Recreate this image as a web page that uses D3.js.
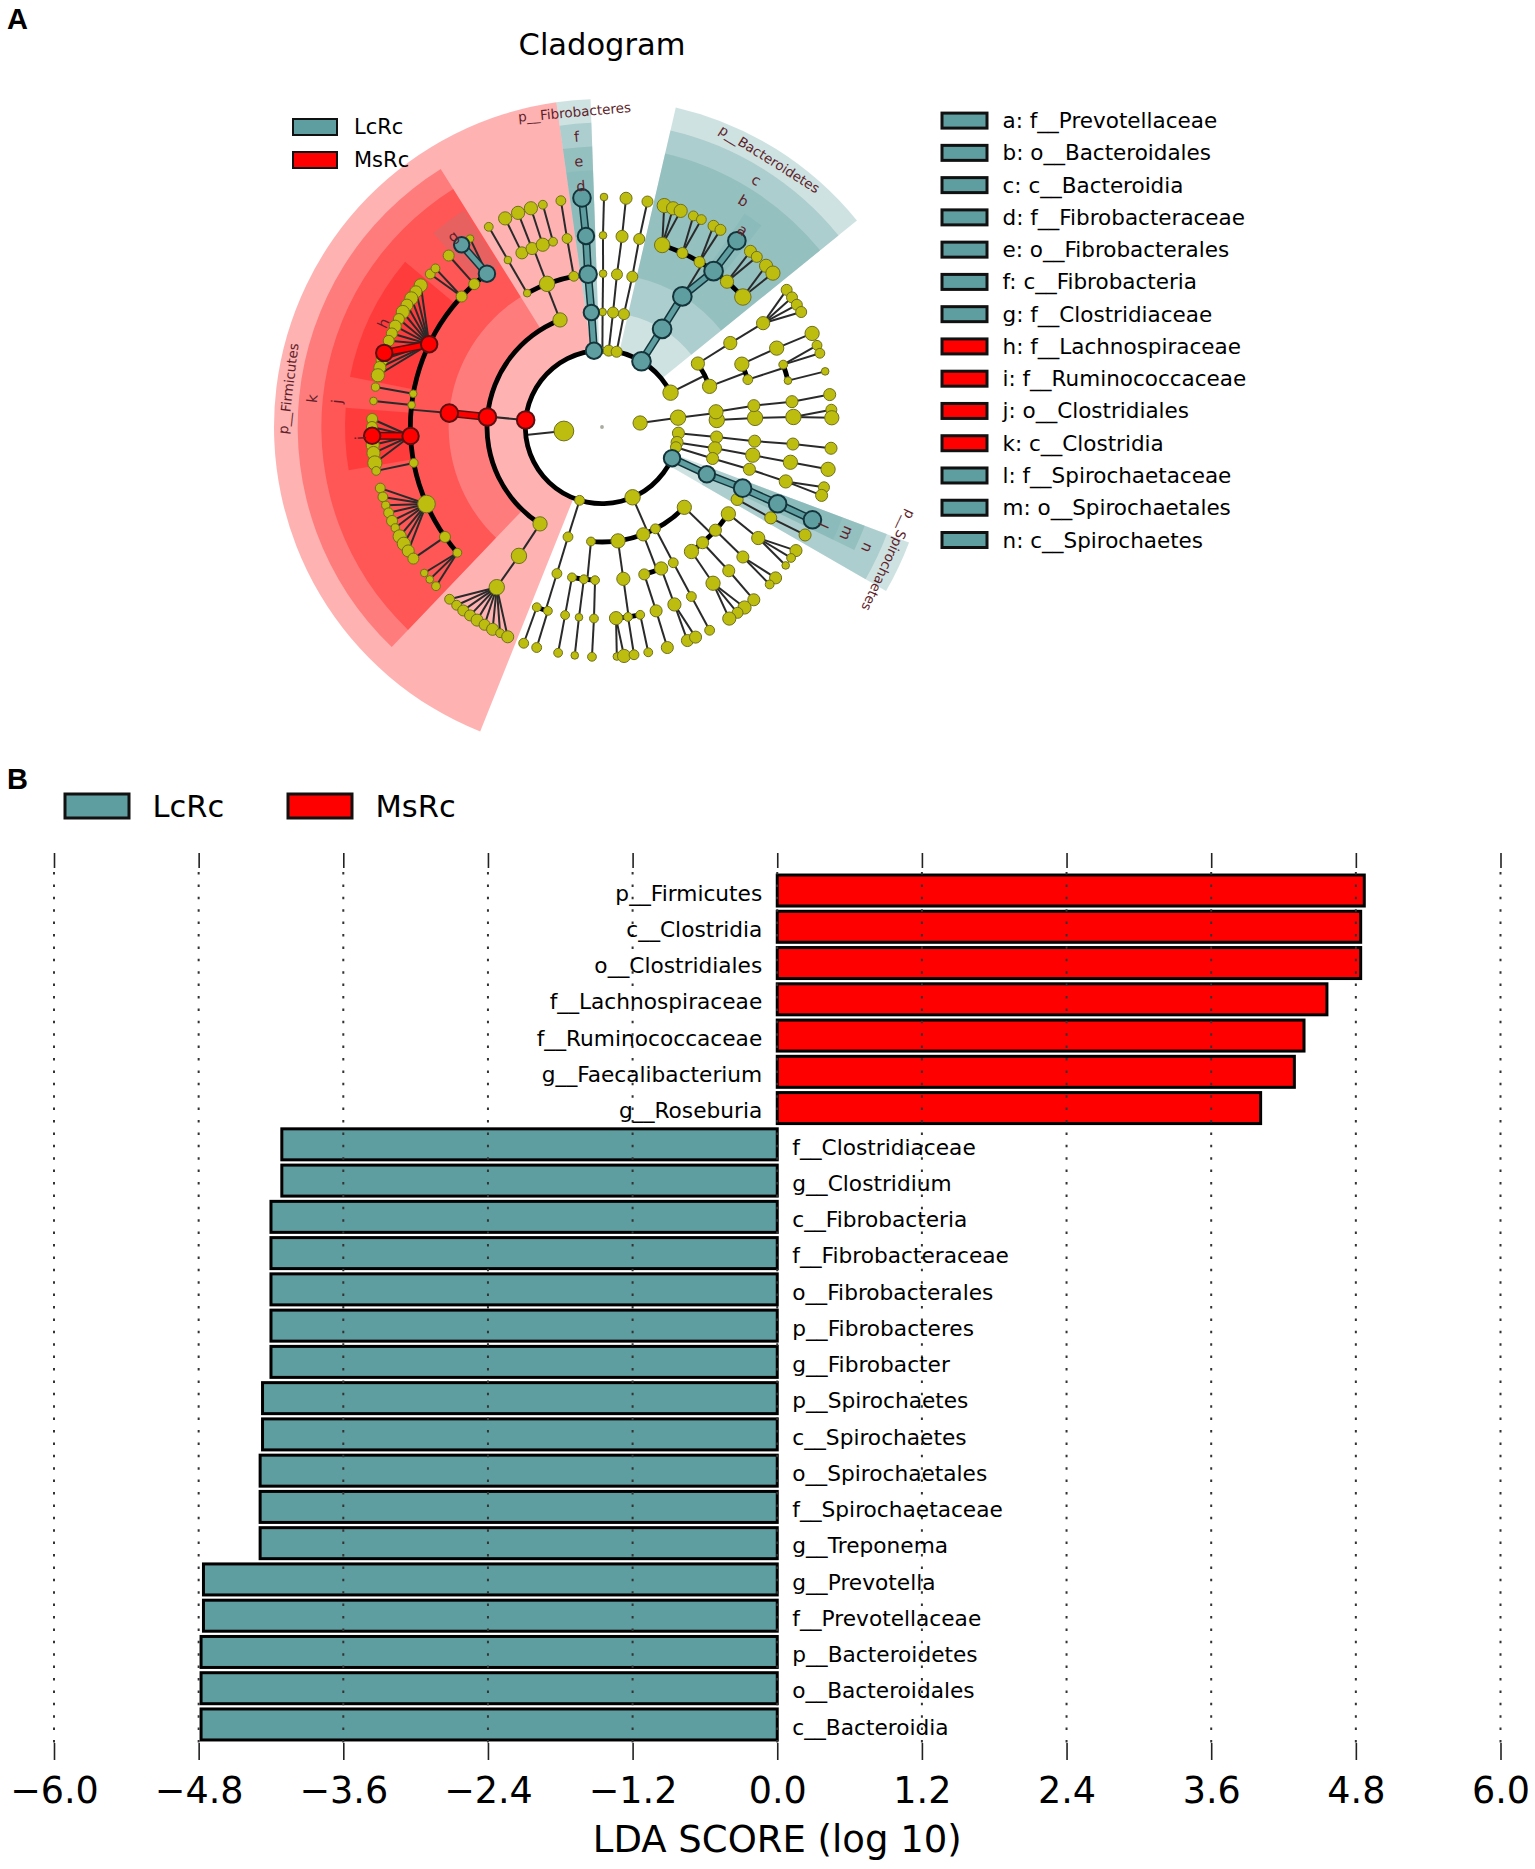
<!DOCTYPE html>
<html>
<head>
<meta charset="utf-8">
<script src="https://cdn.jsdelivr.net/npm/d3@7"></script>
<style>
    html, body { margin: 0; background: #fff; }
    svg { display: block; font-family: "DejaVu Sans", sans-serif; }
</style>
</head>
<body>
<div id="chart"></div>
<script>
// ---- LDA bars (panel B) ----
const taxa = ['p__Firmicutes', 'c__Clostridia', 'o__Clostridiales', 'f__Lachnospiraceae', 'f__Ruminococcaceae',
    'g__Faecalibacterium', 'g__Roseburia', 'f__Clostridiaceae', 'g__Clostridium', 'c__Fibrobacteria',
    'f__Fibrobacteraceae', 'o__Fibrobacterales', 'p__Fibrobacteres', 'g__Fibrobacter', 'p__Spirochaetes',
    'c__Spirochaetes', 'o__Spirochaetales', 'f__Spirochaetaceae', 'g__Treponema', 'g__Prevotella',
    'f__Prevotellaceae', 'p__Bacteroidetes', 'o__Bacteroidales', 'c__Bacteroidia'];
const ldaScores = [4.87, 4.84, 4.84, 4.56, 4.37, 4.29, 4.01, -4.11, -4.11, -4.2, -4.2, -4.2, -4.2, -4.2,
    -4.27, -4.27, -4.29, -4.29, -4.29, -4.76, -4.76, -4.78, -4.78, -4.78];
const ldaTicks = [-6, -4.8, -3.6, -2.4, -1.2, 0, 1.2, 2.4, 3.6, 4.8, 6];
const groups = ['LcRc', 'MsRc'];
const groupColor = { LcRc: '#5f9ea0', MsRc: '#ff0000' };

// ---- cladogram key (panel A) ----
const cladeKeys = ['a: f__Prevotellaceae', 'b: o__Bacteroidales', 'c: c__Bacteroidia', 'd: f__Fibrobacteraceae',
    'e: o__Fibrobacterales', 'f: c__Fibrobacteria', 'g: f__Clostridiaceae', 'h: f__Lachnospiraceae',
    'i: f__Ruminococcaceae', 'j: o__Clostridiales', 'k: c__Clostridia', 'l: f__Spirochaetaceae',
    'm: o__Spirochaetales', 'n: c__Spirochaetes'];
const cladeKeyGroups = ['LcRc', 'LcRc', 'LcRc', 'LcRc', 'LcRc', 'LcRc', 'LcRc', 'MsRc', 'MsRc', 'MsRc', 'MsRc', 'LcRc', 'LcRc', 'LcRc'];

// shaded clades: [group, depth, from deg, to deg]
const cladeShades = [
    ['MsRc', 2, -158.2, -8], ['MsRc', 3, -136.3, -32], ['MsRc', 4, -136.3, -32], ['MsRc', 5, -78.7, -50], ['MsRc', 5, -99.7, -85.7],
    ['LcRc', 5, -41, -32.5],
    ['LcRc', 2, -8, -2], ['LcRc', 3, -8, -2], ['LcRc', 4, -8, -2], ['LcRc', 5, -8, -2],
    ['LcRc', 2, 13, 51], ['LcRc', 3, 13, 51], ['LcRc', 4, 13, 51], ['LcRc', 5, 33.7, 38.4],
    ['LcRc', 2, 110.6, 120], ['LcRc', 3, 110.6, 120], ['LcRc', 4, 110.6, 116], ['LcRc', 5, 110.6, 116]
];
// clade labels: [text, depth, angle deg]
const cladeLabels = [
    ['p__Firmicutes', 2, -83], ['p__Fibrobacteres', 2, -5], ['p__Bacteroidetes', 2, 32], ['p__Spirochaetes', 2, 115],
    ['k', 3, -84.4], ['j', 4, -84.5], ['h', 5, -64.6], ['i', 5, -92.6], ['g', 5, -38],
    ['f', 3, -5], ['e', 4, -5], ['d', 5, -5], ['c', 3, 32], ['b', 4, 32], ['a', 5, 35.5],
    ['n', 3, 114.5], ['m', 4, 113.5], ['l', 5, 114]
];

// clade tree, one node is [angle deg, abundance, children, group]
// group: L / M coloured with a thick link from its parent, l / m coloured only
const firmicutes = [-84.8, 64, [
    [-21.4, 42, [
        [-29.2, 12, [[-29.4, 12, [[-29.5, 16]]]]],
        [-21, 49, [
            [-24.7, 30, [[-24.9, 36]]],
            [-21.4, 30, [[-21.4, 36]]],
            [-18, 36, [[-18, 36]]],
            [-14.8, 16, [[-14.9, 16]]]]],
        [-10.6, 20, [[-10.5, 20, [[-10.3, 20]]]]]]],
    [-85, 64, [
        [-84.8, 64, [
            [-36.9, 56, [[-37.6, 49, null, 'L'], [-35, 12]], 'l'],
            [-41.8, 25, [[-41.8, 25]]],
            [-47.1, 25, [[-48.3, 20], [-46.4, 16]]],
            [-64.4, 56, [[-52, 36], [-54, 30], [-56, 36], [-58, 30], [-60, 36], [-62, 25], [-64, 30], [-66, 25], [-68, 25],
                [-71.2, 56, null, 'M'], [-73, 30], [-75, 30], [-77, 36]], 'm'],
            [-80, 12, [[-80, 14]]],
            [-83.4, 12, [[-83.5, 12]]],
            [-92.7, 56, [[-88, 25], [-90, 25], [-92.2, 56, null, 'M'], [-94.5, 36], [-96.5, 36], [-99, 42]], 'm'],
            [-100.8, 16, [[-101, 16]]],
            [-113.7, 64, [[-105.4, 20], [-107.7, 20], [-109.9, 14], [-111.9, 20], [-114.1, 25], [-116, 14], [-118.4, 36], [-120.5, 36], [-122.6, 30]]],
            [-125, 25, [[-124.9, 25]]],
            [-131, 16, [[-129.4, 12], [-131.5, 12], [-133.8, 16]]]], 'M']], 'm'],
    [-147.4, 42, [[-147.2, 49, [[-146.7, 49, [[-138.5, 20], [-140.8, 20], [-142.9, 25], [-145, 25], [-147.1, 30], [-149.3, 25], [-151.6, 30], [-153.7, 16], [-155.8, 30]]]]]]]
], 'm'];

const fibrobacteres = [-6, 56, [[-5.3, 49, [[-5.2, 64, [[-4.8, 56, [[-5, 64, null, 'L']], 'L']], 'L']], 'L']], 'l'];
const smallPhylaA = [0.3, 9, [[0.3, 12, [[0.4, 12, [[0.3, 12, [[0.5, 12]]]]]]]]];
const smallPhylaB = [5, 25, [[5.5, 25, [[5.6, 25, [[6, 30, [[6, 30]]]]]]]]];
const smallPhylaC = [11, 25, [[11, 25, [[11.4, 25, [[11.2, 25, [[11.4, 25]]]]]]]]];

const bacteroidetes = [31, 72, [[31.5, 72, [[31.6, 72, [
    [18.3, 49, [[15.7, 42], [18, 36], [20, 36]]],
    [24.8, 25, [[23.4, 20], [25.6, 20]]],
    [30.6, 25, [[29, 25], [31, 25]]],
    [35.6, 72, [[35.9, 64, null, 'L']], 'L'],
    [40.7, 36, [[40.2, 30], [42.3, 25]]],
    [47.3, 56, [[45.5, 36], [48, 42]]]
], 'L']], 'L']], 'l'];

const upperRightPhylum = [63.4, 49, [
    [56.5, 36, [[56.8, 36, [[57.2, 36, [[53.4, 25], [55.7, 25], [57.9, 25], [60, 25]]]]]]],
    [69.3, 42, [
        [65.8, 42, [[65.7, 42, [[66, 42]]]]],
        [72, 20, [[71, 16, [[69.2, 20], [71.3, 20]]], [76, 12, [[76, 12]]]]]]]
]];

const spirochaetes = [-246, 56, [[114.3, 56, [
    [113.5, 64, [[113.6, 64, [[113.8, 64, null, 'L']], 'L']], 'L'],
    [118.2, 30, [[118.3, 30, [[118, 30]]]]]
], 'L']], 'l'];

const lowerPhylum = [-203.5, 49, [
    [134.3, 42, [
        [124.5, 42, [[125.4, 36, [[122.5, 30], [124.7, 16], [127, 12]]]]],
        [132.3, 30, [[132.7, 30, [[131, 30], [133.2, 16]]]]],
        [139, 30, [[138.6, 30, [[138.7, 30]]]]],
        [144.3, 42, [[144.6, 42, [[141.7, 36], [143.9, 25], [146.4, 36]]]]]]],
    [152.3, 20, [[152.3, 20, [[152.2, 20, [[152.1, 20]]]]]]],
    [159, 36, [
        [164, 25, [[163.6, 30, [[163.5, 30]]]]],
        [157.3, 36, [[157.8, 36, [[158.2, 30], [156, 30]]]]]]],
    [172, 42, [[172, 36, [
        [175.8, 36, [[176.3, 12], [174.5, 36]]],
        [172.2, 16, [[172, 20]]],
        [168.5, 16, [[168.4, 16]]]]]]],
    [185.5, 16, [
        [191.3, 16, [[191.1, 16, [[191, 16]]]]],
        [186.8, 16, [[186.9, 12, [[186.8, 12]]]]],
        [182.6, 16, [[182.4, 16, [[182.5, 16]]]]]]]
]];

const smallestPhylum = [-163, 20, [[197.2, 20, [[197.1, 20, [
    [199.9, 16, [[199.9, 20]]],
    [196.4, 16, [[196.5, 20]]]]]]]]];

const mainKingdom = [-96, 81, [spirochaetes, lowerPhylum, smallestPhylum, firmicutes, fibrobacteres,
    smallPhylaA, smallPhylaB, smallPhylaC, bacteroidetes, upperRightPhylum]];

const sideKingdom = [84, 42, [[83, 49, [
    [86.5, 49, [[86.6, 49, [[87, 49, [[85.7, 25], [87.7, 42]]]]]]],
    [82.4, 42, [[82, 30, [[82.4, 30, [[81.9, 30]]]]]]]]]]];

// phyla in the gap of the ring, no link towards the centre in the picture
const loosePhylumA = [94.6, 0, [[94.6, 30, [[95, 30, [[95.3, 30, [[95.1, 30, [[95.3, 30]]]]]]]]]]];
const loosePhylumB = [101.6, 0, [[101.6, 30, [[100.7, 36, [[100.6, 42, [[100.6, 42, [[100.6, 42]]]]]]]]]]];
const loosePhylumC = [105.3, 0, [[105.3, 25, [[105.9, 30, [[106, 30, [[106.5, 36, [[105.2, 25], [107.3, 30]]]]]]]]]]];

const cladeRoot = [0, 3, [mainKingdom, sideKingdom, loosePhylumA, loosePhylumB, loosePhylumC]];

const width = 1535, height = 1869;
const svg = d3.select('#chart').append('svg')
    .attr('width', width)
    .attr('height', height);

drawCladogram();
drawLdaBars();

// panel letters
svg.selectAll('text.panel')
    .data([['A', 29], ['B', 789]])
    .enter().append('text')
    .attr('class', 'panel')
    .attr('x', 7)
    .attr('y', d => d[1])
    .style('font-family', '"Liberation Sans", Arial, sans-serif')
    .style('font-weight', 'bold')
    .style('font-size', '29px')
    .text(d => d[0]);

function drawCladogram() {
    const center = [602, 427];
    const g = svg.append('g').attr('transform', `translate(${center})`);

    const angle = d3.scaleLinear().domain([-360, 360]).range([-2 * Math.PI, 2 * Math.PI]);
    const radius = d3.scaleLinear().domain([0, 6]).range([0, 230]);
    const shadeOuter = d3.scaleLinear().domain([2, 5]).range([328, 257]);
    const labelRadius = d3.scaleLinear().domain([2, 5]).range([316, 242]);
    const nodeSize = d3.scaleSqrt().domain([0, 100]).range([0, 11]);

    const arc = d3.arc();
    const root = d3.hierarchy(cladeRoot, d => d[2]);
    const nodes = root.descendants();
    const at = (deg, depth) => d3.pointRadial(angle(deg), radius(depth));
    const isLinked = n => n.depth > 1 && n.parent.data[1] > 0;

    // clade shading
    g.selectAll('path.shade')
        .data(cladeShades)
        .enter().append('path')
        .attr('class', 'shade')
        .attr('d', d => arc({
            innerRadius: radius(d[1]),
            outerRadius: shadeOuter(d[1]),
            startAngle: angle(d[2]),
            endAngle: angle(d[3])
        }))
        .style('fill', d => groupColor[d[0]])
        .style('opacity', d => d[0] === 'LcRc' && d[1] === 5 ? 0.15 : 0.3);

    // thin links: straight for fans and single children, stem down to the sibling arc otherwise
    const thin = [];
    nodes.filter(n => n.children && n.depth > 0 && n.data[1] > 0).forEach(n => {
        const kids = n.children;
        if (kids.length > 1 && kids[0].depth < 6) {
            thin.push([at(n.data[0], n.depth), at(n.data[0], n.depth + 1)]);
        } else {
            kids.forEach(c => thin.push([at(n.data[0], n.depth), at(c.data[0], c.depth)]));
        }
    });
    g.selectAll('line.thin')
        .data(thin)
        .enter().append('line')
        .attr('class', 'thin')
        .attr('x1', d => d[0][0]).attr('y1', d => d[0][1])
        .attr('x2', d => d[1][0]).attr('y2', d => d[1][1])
        .style('stroke', '#2a2a2a')
        .style('stroke-width', 2);

    // thick arcs between siblings
    const siblings = nodes.filter(n => n.children && n.children.length > 1 && n.depth > 0 && n.children[0].depth < 6);
    g.selectAll('path.sib')
        .data(siblings)
        .enter().append('path')
        .attr('class', 'sib')
        .attr('d', n => arc({
            innerRadius: radius(n.depth + 1) - 2.4,
            outerRadius: radius(n.depth + 1) + 2.4,
            startAngle: angle(d3.min(n.children, c => c.data[0])),
            endAngle: angle(d3.max(n.children, c => c.data[0]))
        }))
        .style('fill', '#000');

    // highlighted links
    const bold = nodes.filter(n => (n.data[3] === 'L' || n.data[3] === 'M') && isLinked(n));
    const boldColor = n => n.data[3] === 'L' ? groupColor.LcRc : groupColor.MsRc;
    [[8, n => n.data[3] === 'L' ? '#12343a' : '#5a1010'], [5, boldColor]].forEach(([w, col]) => {
        g.append('g').selectAll('line')
            .data(bold)
            .enter().append('line')
            .attr('x1', n => at(n.parent.data[0], n.parent.depth)[0])
            .attr('y1', n => at(n.parent.data[0], n.parent.depth)[1])
            .attr('x2', n => at(n.data[0], n.depth)[0])
            .attr('y2', n => at(n.data[0], n.depth)[1])
            .style('stroke', col)
            .style('stroke-width', w);
    });

    // nodes, the coloured ones on top
    const isColoured = n => !!n.data[3];
    g.selectAll('circle')
        .data(nodes.filter(n => n.data[1] > 0).sort((a, b) => isColoured(a) - isColoured(b)))
        .enter().append('circle')
        .attr('cx', n => at(n.data[0], n.depth)[0])
        .attr('cy', n => at(n.data[0], n.depth)[1])
        .attr('r', n => nodeSize(n.data[1]))
        .style('fill', n => {
            if (n.depth === 0) return '#aaaaa0';
            if (!n.data[3]) return '#bdbd10';
            return 'Ll'.includes(n.data[3]) ? groupColor.LcRc : groupColor.MsRc;
        })
        .style('stroke', n => {
            if (n.depth === 0) return 'none';
            if (!n.data[3]) return '#70701c';
            return 'Ll'.includes(n.data[3]) ? '#12343a' : '#5a1010';
        })
        .style('stroke-width', n => isColoured(n) ? 2 : 1);

    // clade labels
    g.selectAll('text.clade')
        .data(cladeLabels)
        .enter().append('text')
        .attr('class', 'clade')
        .attr('transform', d => {
            const p = d3.pointRadial(angle(d[2]), labelRadius(d[1]));
            return `translate(${p}) rotate(${d[2]})`;
        })
        .attr('text-anchor', 'middle')
        .attr('dy', '0.35em')
        .style('font-size', d => d[0].length > 1 ? '13.5px' : '14.5px')
        .style('fill', '#5e1f2b')
        .text(d => d[0]);

    svg.append('text')
        .attr('x', 602).attr('y', 55)
        .attr('text-anchor', 'middle')
        .style('font-size', '30.5px')
        .text('Cladogram');

    // group legend
    const legendY = d3.scalePoint().domain(groups).range([127, 160]);
    const legend = svg.append('g').selectAll('g')
        .data(groups)
        .enter().append('g');
    legend.append('rect')
        .attr('x', 293).attr('y', d => legendY(d) - 8)
        .attr('width', 44).attr('height', 16)
        .style('fill', d => groupColor[d])
        .style('stroke', '#111')
        .style('stroke-width', 2);
    legend.append('text')
        .attr('x', 354).attr('y', d => legendY(d))
        .attr('dy', '0.35em')
        .style('font-size', '21px')
        .text(d => d);

    // letter key
    const keyY = d3.scalePoint().domain(cladeKeys).range([120.6, 540]);
    const key = svg.append('g').selectAll('g')
        .data(cladeKeys)
        .enter().append('g');
    key.append('rect')
        .attr('x', 942).attr('y', d => keyY(d) - 7.5)
        .attr('width', 45).attr('height', 15)
        .style('fill', (d, i) => groupColor[cladeKeyGroups[i]])
        .style('stroke', '#111')
        .style('stroke-width', 3);
    key.append('text')
        .attr('x', 1002.5).attr('y', d => keyY(d))
        .attr('dy', '0.35em')
        .style('font-size', '21.5px')
        .text(d => d);
}

function drawLdaBars() {
    const x = d3.scaleLinear().domain([-6, 6]).range([54, 1500.5]);
    const y = d3.scaleBand().domain(taxa).range([872.4, 1742.6]).paddingInner(0.145).paddingOuter(0.0725);

    svg.append('g').selectAll('rect')
        .data(taxa)
        .enter().append('rect')
        .attr('x', (d, i) => x(Math.min(0, ldaScores[i])))
        .attr('y', d => y(d))
        .attr('width', (d, i) => Math.abs(x(ldaScores[i]) - x(0)))
        .attr('height', y.bandwidth())
        .style('fill', (d, i) => ldaScores[i] < 0 ? groupColor.LcRc : groupColor.MsRc)
        .style('stroke', '#000')
        .style('stroke-width', 3);

    // dotted grid, it runs over the bars
    svg.append('g').selectAll('line')
        .data(ldaTicks)
        .enter().append('line')
        .attr('x1', d => x(d)).attr('x2', d => x(d))
        .attr('y1', 872).attr('y2', 1743)
        .style('stroke', '#333')
        .style('stroke-width', 2)
        .style('stroke-dasharray', '2.5 9.9');

    // ticks
    const top = svg.append('g')
        .attr('transform', 'translate(0,868)')
        .call(d3.axisTop(x).tickValues(ldaTicks).tickSize(15).tickFormat(''));
    const bottom = svg.append('g')
        .attr('transform', 'translate(0,1743)')
        .call(d3.axisBottom(x).tickValues(ldaTicks).tickSize(17).tickPadding(17).tickFormat(d3.format('.1f')));
    [top, bottom].forEach(a => {
        a.select('.domain').remove();
        a.selectAll('line').style('stroke', '#222').style('stroke-width', 1.6);
    });
    bottom.selectAll('text')
        .style('font-family', '"DejaVu Sans", sans-serif')
        .style('font-size', '36.5px')
        .style('fill', '#000');

    // names sit across the zero line from their bar
    svg.append('g').selectAll('text')
        .data(taxa)
        .enter().append('text')
        .attr('x', (d, i) => ldaScores[i] < 0 ? x(0) + 15 : x(0) - 15)
        .attr('y', d => y(d) + y.bandwidth() / 2 + 2.6)
        .attr('dy', '0.35em')
        .attr('text-anchor', (d, i) => ldaScores[i] < 0 ? 'start' : 'end')
        .style('font-size', '21.7px')
        .text(d => d);

    // legend
    const legendX = d3.scalePoint().domain(groups).range([65, 288]);
    const legend = svg.append('g').selectAll('g')
        .data(groups)
        .enter().append('g');
    legend.append('rect')
        .attr('x', d => legendX(d)).attr('y', 794)
        .attr('width', 64).attr('height', 24)
        .style('fill', d => groupColor[d])
        .style('stroke', '#111')
        .style('stroke-width', 3);
    legend.append('text')
        .attr('x', d => legendX(d) + 87.5).attr('y', 806)
        .attr('dy', '0.35em')
        .style('font-size', '30.5px')
        .text(d => d);

    svg.append('text')
        .attr('x', x(0)).attr('y', 1852)
        .attr('text-anchor', 'middle')
        .style('font-size', '37px')
        .text('LDA SCORE (log 10)');
}
</script>
</body>
</html>
